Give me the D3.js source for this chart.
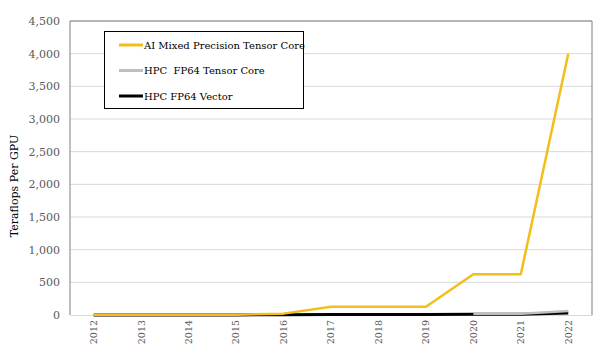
<!DOCTYPE html>
<html>
<head>
<meta charset="utf-8">
<script src="https://cdn.jsdelivr.net/npm/d3@7"></script>
<style>
  html, body { margin: 0; padding: 0; background: #fff; }
  svg { display: block; font-family: "DejaVu Serif", "Liberation Serif", serif; }
</style>
</head>
<body>
<div id="chart"></div>
<script>
// values, teraflops per GPU
const years = ['2012', '2013', '2014', '2015', '2016', '2017', '2018', '2019', '2020', '2021', '2022'];
const aiMixed = [4, 4, 4, 4, 21, 125, 125, 125, 624, 624, 4000];
const hpcTensor = [null, null, null, null, null, null, null, null, 19.5, 19.5, 60];
const hpcVector = [1.3, 1.4, 1.7, 1.7, 5.3, 7.8, 7.8, 7.8, 9.7, 9.7, 30];
const yTicks = [0, 500, 1000, 1500, 2000, 2500, 3000, 3500, 4000, 4500];

const series = [
  { name: 'AI Mixed Precision Tensor Core', values: aiMixed, color: '#f2be1a' },
  { name: 'HPC  FP64 Tensor Core', values: hpcTensor, color: '#bfbfbf' },
  { name: 'HPC FP64 Vector', values: hpcVector, color: '#000000' }
];

const W = 600, H = 353;
const margin = { top: 21, right: 8, bottom: 38, left: 70 };
const innerW = W - margin.left - margin.right;
const innerH = H - margin.top - margin.bottom;

const svg = d3.select('#chart').append('svg')
  .attr('width', W)
  .attr('height', H);

const g = svg.append('g').attr('transform', `translate(${margin.left},${margin.top})`);

const x = d3.scaleBand().domain(years).range([0, innerW]);
const y = d3.scaleLinear().domain([0, 4500]).range([innerH, 0]);

// gridlines
g.append('g')
  .selectAll('line')
  .data(yTicks.slice(1))
  .join('line')
  .attr('x1', 0).attr('x2', innerW)
  .attr('y1', d => y(d)).attr('y2', d => y(d))
  .attr('stroke', '#d9d9d9')
  .attr('stroke-width', 1);

// Y axis labels
const yAxis = g.append('g')
  .call(d3.axisLeft(y).tickValues(yTicks).tickSize(0).tickPadding(10).tickFormat(d3.format(',')));
yAxis.select('.domain').remove();
yAxis.selectAll('text')
  .attr('fill', '#595959')
  .style('font-size', '11px')
  .style('font-family', '"DejaVu Serif", serif');

// X axis
const xAxis = g.append('g')
  .attr('transform', `translate(0,${innerH})`)
  .call(d3.axisBottom(x).tickSize(0));
xAxis.select('.domain').attr('stroke', '#d9d9d9');
xAxis.selectAll('text')
  .attr('fill', '#595959')
  .style('font-size', '9.5px')
  .style('font-family', '"DejaVu Serif", serif')
  .attr('text-anchor', 'end')
  .attr('transform', 'rotate(-90)')
  .attr('x', -5)
  .attr('y', 0)
  .attr('dy', '0.35em');

// lines
const line = d3.line()
  .defined(d => d.v != null)
  .x(d => x(d.year) + x.bandwidth() / 2)
  .y(d => y(d.v));

for (const s of series.slice().reverse()) {
  g.append('path')
    .datum(years.map((yr, i) => ({ year: yr, v: s.values[i] })))
    .attr('fill', 'none')
    .attr('stroke', s.color)
    .attr('stroke-width', s.color === '#000000' ? 3 : 2.5)
    .attr('stroke-linejoin', 'round')
    .attr('d', line);
}

// plot frame (top, left, right)
g.append('path')
  .attr('d', `M0,${innerH}V0H${innerW}V${innerH}`)
  .attr('fill', 'none')
  .attr('stroke', '#7f7f7f')
  .attr('stroke-width', 1);

// y axis title
svg.append('text')
  .attr('transform', `translate(18,${margin.top + innerH / 2 + 18}) rotate(-90)`)
  .attr('text-anchor', 'middle')
  .style('font-size', '11px')
  .attr('fill', '#000')
  .text('Teraflops Per GPU');

// legend
const legend = svg.append('g').attr('transform', 'translate(104,31)');
legend.append('rect')
  .attr('x', 0.5).attr('y', 0.5)
  .attr('width', 199).attr('height', 77)
  .attr('fill', '#fff')
  .attr('stroke', '#000')
  .attr('stroke-width', 1);

const item = legend.selectAll('g.item')
  .data(series)
  .join('g')
  .attr('class', 'item')
  .attr('transform', (d, i) => `translate(15,${14 + i * 25.5})`);

item.append('line')
  .attr('x1', 0).attr('x2', 24)
  .attr('stroke', d => d.color)
  .attr('stroke-width', 3);

item.append('text')
  .attr('x', 25)
  .attr('dy', '0.35em')
  .style('font-size', '10px')
  .style('white-space', 'pre')
  .attr('fill', '#000')
  .text(d => d.name);
</script>
</body>
</html>
